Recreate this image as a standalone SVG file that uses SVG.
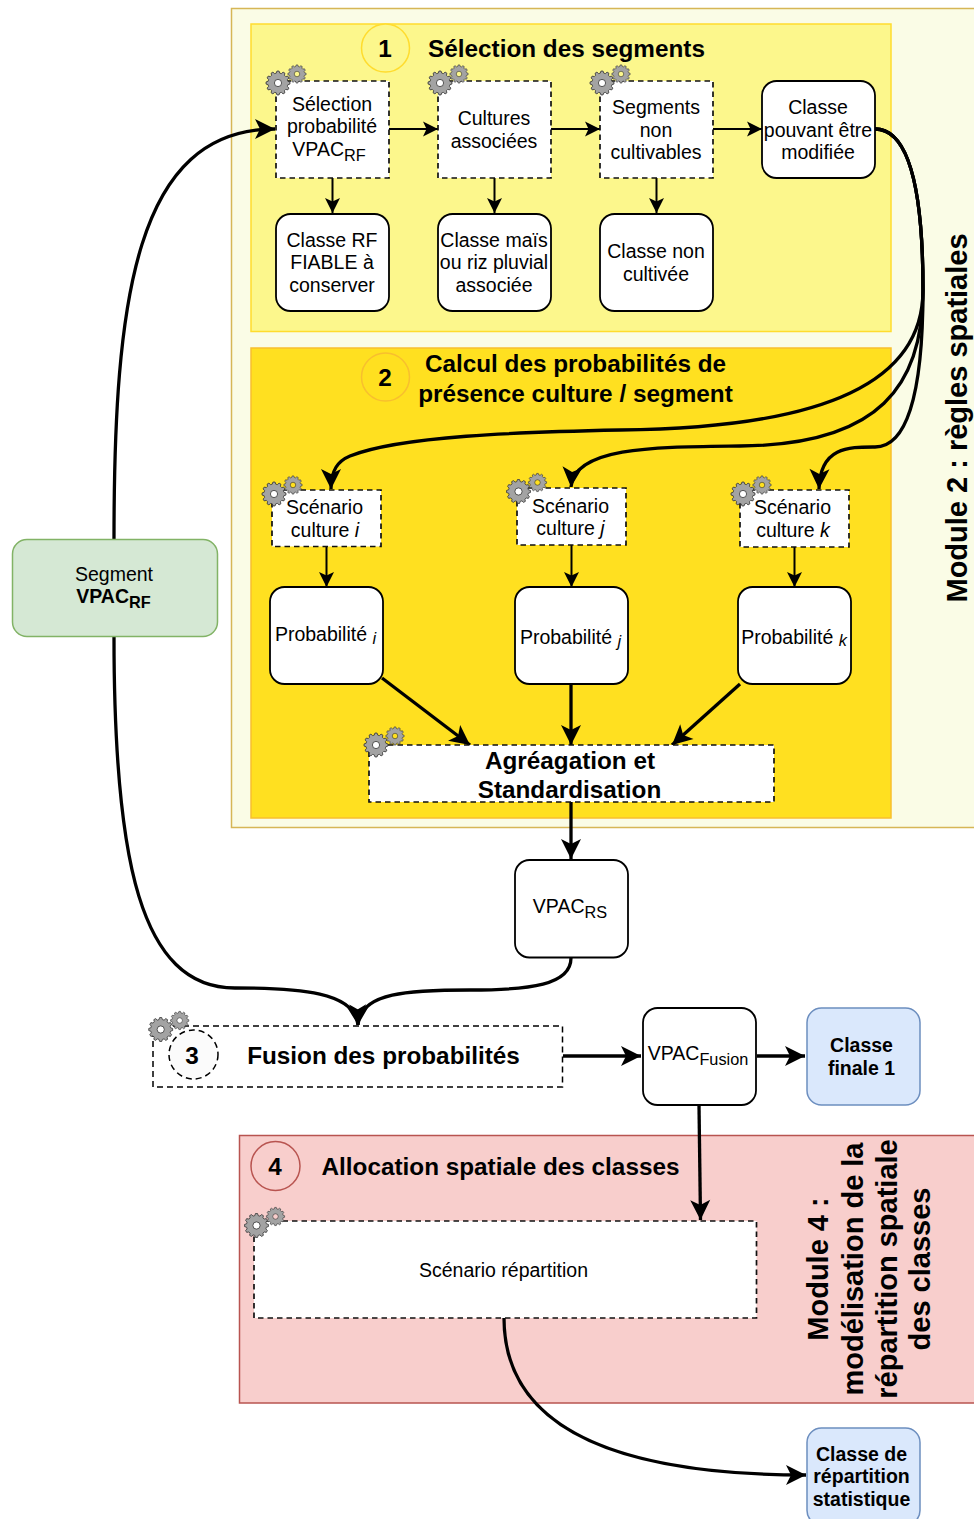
<svg xmlns="http://www.w3.org/2000/svg" xmlns:xlink="http://www.w3.org/1999/xlink" width="974" height="1519" viewBox="0 0 974 1519">
<style>
text{font-family:"Liberation Sans",Arial,sans-serif;fill:#000;text-anchor:middle}
.t{font-size:19.5px}
.b{font-size:24.3px;font-weight:bold}
.v{font-size:29px;font-weight:bold}
.n{font-size:24.3px;font-weight:bold}
.sub{font-size:16.3px}
.d{fill:#fff;stroke:#111;stroke-width:1.700;stroke-dasharray:5.500 4}
.r{fill:#fff;stroke:#000;stroke-width:1.800}
.gs{fill:#a3a3a3;stroke:#333;stroke-width:.8}
.c path,.c line{fill:none;stroke:#000}
.th{stroke-width:2}
.tk{stroke-width:3.300}
</style>
<defs>
<marker id="am" markerUnits="userSpaceOnUse" markerWidth="18" markerHeight="18" refX="15" refY="8" orient="auto" overflow="visible"><path d="M0,0.500L15,8L0,15.500L3.500,8Z" fill="#000"/></marker>
<marker id="al" markerUnits="userSpaceOnUse" markerWidth="22" markerHeight="22" refX="20" refY="10" orient="auto" overflow="visible"><path d="M0,0L20,10L0,20L5,10Z" fill="#000"/></marker>
<path id="gp" fill-rule="evenodd" d="M11.95,1.05L9.85,1.74L9.4,3.42L10.88,5.07L9.83,6.88L7.66,6.43L6.43,7.66L6.88,9.83L5.07,10.88L3.42,9.4L1.74,9.85L1.05,11.95L-1.05,11.95L-1.74,9.85L-3.42,9.4L-5.07,10.88L-6.88,9.83L-6.43,7.66L-7.66,6.43L-9.83,6.88L-10.88,5.07L-9.4,3.42L-9.85,1.74L-11.95,1.05L-11.95,-1.05L-9.85,-1.74L-9.4,-3.42L-10.88,-5.07L-9.83,-6.88L-7.66,-6.43L-6.43,-7.66L-6.88,-9.83L-5.07,-10.88L-3.42,-9.4L-1.74,-9.85L-1.05,-11.95L1.05,-11.95L1.74,-9.85L3.42,-9.4L5.07,-10.88L6.88,-9.83L6.43,-7.66L7.66,-6.43L9.83,-6.88L10.88,-5.07L9.4,-3.42L9.85,-1.74L11.95,-1.05ZM3.6,0A3.6,3.6 0 1 0 -3.6,0A3.6,3.6 0 1 0 3.6,0Z"/>
<g id="gears">
<circle cx="0" cy="0" r="4" fill="#fff"/>
<use xlink:href="#gp" href="#gp" class="gs"/>
<use xlink:href="#gp" href="#gp" class="gs" transform="translate(19,-9) scale(.76)"/>
</g>
</defs>

<g id="module2">
<rect x="231.500" y="8.500" width="760" height="819" fill="#fafce6" stroke="#d6b656" stroke-width="1.500"/>
<text class="v" transform="translate(967,418) rotate(-90)">Module 2 : règles spatiales</text>
</g>
<g id="section1">
<rect x="251" y="24" width="640" height="307.500" fill="#fcf78c" stroke="#ffdc2e" stroke-width="1.500"/>
<circle cx="385.500" cy="48" r="24" fill="#fcf78c" stroke="#ffdc2e" stroke-width="1.500"/>
<text class="n" x="385" y="57">1</text>
<text class="b" x="566.500" y="57">Sélection des segments</text>
</g>
<g id="section2">
<rect x="251" y="348" width="640" height="470" fill="#ffe020" stroke="#f8bf2e" stroke-width="1.500"/>
<circle cx="385.500" cy="377" r="24" fill="#ffe020" stroke="#f8bf2e" stroke-width="1.500"/>
<text class="n" x="385" y="386">2</text>
<text class="b" x="575.500" y="372">Calcul des probabilités de</text>
<text class="b" x="575.500" y="402">présence culture / segment</text>
</g>
<g id="module4">
<rect x="239.500" y="1135.500" width="750" height="267.500" fill="#f8cecc" stroke="#b85450" stroke-width="1.500"/>
<circle cx="275.500" cy="1166" r="24.500" fill="#f8cecc" stroke="#b85450" stroke-width="1.500"/>
<text class="n" x="275" y="1175">4</text>
<text class="b" x="500.500" y="1175">Allocation spatiale des classes</text>
<g transform="rotate(-90)">
<text class="v" x="-1269" y="828">Module 4 :</text>
<text class="v" x="-1269" y="863">modélisation de la</text>
<text class="v" x="-1269" y="897">répartition spatiale</text>
<text class="v" x="-1269" y="930">des classes</text>
</g>
</g>

<g id="connectors" class="c">
<path class="th" marker-end="url(#am)" d="M389,129H438"/>
<path class="th" marker-end="url(#am)" d="M551,129H600"/>
<path class="th" marker-end="url(#am)" d="M713,129H762"/>
<path class="th" marker-end="url(#am)" d="M332.500,178V213"/>
<path class="th" marker-end="url(#am)" d="M494.500,178V213"/>
<path class="th" marker-end="url(#am)" d="M656.500,178V213"/>
<path class="th" marker-end="url(#am)" d="M326.500,547V587"/>
<path class="th" marker-end="url(#am)" d="M571.500,545V587"/>
<path class="th" marker-end="url(#am)" d="M794.500,547V587"/>
<path class="tk" marker-end="url(#al)" d="M875,129C905,129 923,175 923,290C923,380 830,428 620,430C520,432 400,436 350,456C338,461 331,470 331,489"/>
<path class="tk" marker-end="url(#al)" d="M875,129C905,129 923,175 923,290C923,385 880,445 740,446C660,447 574,446 571,487"/>
<path class="tk" marker-end="url(#al)" d="M875,129C905,129 923,175 923,290C923,400 905,447 875,447C850,447 820,446 819,489"/>
<path class="tk" marker-end="url(#al)" d="M382,678L470,745"/>
<path class="tk" marker-end="url(#al)" d="M571,684V745"/>
<path class="tk" marker-end="url(#al)" d="M740,684L672,745"/>
<path class="tk" marker-end="url(#al)" d="M571,802V859"/>
<path class="tk" marker-end="url(#al)" d="M114,539C114,300 135,129 275,129"/>
<path class="tk" marker-end="url(#al)" d="M114,637C114,860 140,988 235,988C300,988 355,992 358,1025"/>
<path class="tk" marker-end="url(#al)" d="M571,958C571,985 530,990 470,990C410,990 360,992 358,1025"/>
<path class="tk" marker-end="url(#al)" d="M563,1056H641"/>
<path class="tk" marker-end="url(#al)" d="M757,1056H805"/>
<path class="tk" marker-end="url(#al)" d="M699,1105L700.500,1220"/>
<path class="tk" marker-end="url(#al)" d="M504,1318C504,1430 620,1475 806,1475"/>
</g>

<g id="n-selection">
<rect class="d" x="276" y="81" width="113" height="97"/>
<use xlink:href="#gears" href="#gears" x="278" y="83"/>
<text class="t" x="332" y="111">Sélection</text>
<text class="t" x="332" y="133">probabilité</text>
<text class="t" x="329" y="156">VPAC<tspan class="sub" dy="5">RF</tspan></text>
</g>
<g id="n-cultures">
<rect class="d" x="438" y="81" width="113" height="97"/>
<use xlink:href="#gears" href="#gears" x="440" y="83"/>
<text class="t" x="494" y="125">Cultures</text>
<text class="t" x="494" y="148">associées</text>
</g>
<g id="n-segments">
<rect class="d" x="600" y="81" width="113" height="97"/>
<use xlink:href="#gears" href="#gears" x="602" y="83"/>
<text class="t" x="656" y="114">Segments</text>
<text class="t" x="656" y="137">non</text>
<text class="t" x="656" y="159">cultivables</text>
</g>
<g id="n-classe-mod">
<rect class="r" x="762" y="81" width="113" height="97" rx="14.500"/>
<text class="t" x="818" y="114">Classe</text>
<text class="t" x="818" y="137">pouvant être</text>
<text class="t" x="818" y="159">modifiée</text>
</g>
<g id="n-classe-rf">
<rect class="r" x="276" y="214" width="113" height="97" rx="14.500"/>
<text class="t" x="332" y="247">Classe RF</text>
<text class="t" x="332" y="269">FIABLE à</text>
<text class="t" x="332" y="292">conserver</text>
</g>
<g id="n-classe-mais">
<rect class="r" x="438" y="214" width="113" height="97" rx="14.500"/>
<text class="t" x="494" y="247">Classe maïs</text>
<text class="t" x="494" y="269">ou riz pluvial</text>
<text class="t" x="494" y="292">associée</text>
</g>
<g id="n-classe-non">
<rect class="r" x="600" y="214" width="113" height="97" rx="14.500"/>
<text class="t" x="656" y="258">Classe non</text>
<text class="t" x="656" y="281">cultivée</text>
</g>
<g id="n-scen-i">
<rect class="d" x="272" y="490" width="109" height="56.500"/>
<use xlink:href="#gears" href="#gears" x="274" y="494"/>
<text class="t" x="324.500" y="514">Scénario</text>
<text class="t" x="325" y="537">culture <tspan font-style="italic">i</tspan></text>
</g>
<g id="n-scen-j">
<rect class="d" x="517" y="488" width="109" height="57"/>
<use xlink:href="#gears" href="#gears" x="518.500" y="491.500"/>
<text class="t" x="570.500" y="513">Scénario</text>
<text class="t" x="570.500" y="535">culture <tspan font-style="italic">j</tspan></text>
</g>
<g id="n-scen-k">
<rect class="d" x="740" y="490" width="109" height="57"/>
<use xlink:href="#gears" href="#gears" x="743" y="494"/>
<text class="t" x="792.500" y="514">Scénario</text>
<text class="t" x="793" y="537">culture <tspan font-style="italic">k</tspan></text>
</g>
<g id="n-prob-i">
<rect class="r" x="270" y="587" width="113" height="97" rx="14.500"/>
<text class="t" x="325.500" y="641">Probabilité <tspan class="sub" font-style="italic" dy="3">i</tspan></text>
</g>
<g id="n-prob-j">
<rect class="r" x="515" y="587" width="113" height="97" rx="14.500"/>
<text class="t" x="570.500" y="644">Probabilité <tspan class="sub" font-style="italic" dy="3">j</tspan></text>
</g>
<g id="n-prob-k">
<rect class="r" x="738" y="587" width="113" height="97" rx="14.500"/>
<text class="t" x="794" y="644">Probabilité <tspan class="sub" font-style="italic" dy="2">k</tspan></text>
</g>
<g id="n-agreg">
<rect class="d" x="369" y="745" width="405" height="57"/>
<use xlink:href="#gears" href="#gears" x="376" y="745"/>
<text class="b" x="570" y="769">Agréagation et</text>
<text class="b" x="569.500" y="798">Standardisation</text>
</g>
<g id="n-vpacrs">
<rect class="r" x="515" y="860" width="113" height="97.500" rx="14.500"/>
<text class="t" x="570" y="913">VPAC<tspan class="sub" dy="5">RS</tspan></text>
</g>
<g id="n-segment">
<rect x="12.500" y="539.500" width="205" height="97" rx="14.500" fill="#d5e8d4" stroke="#82b366" stroke-width="1.500"/>
<text class="t" x="114" y="581">Segment</text>
<text class="t" x="113.500" y="603" font-weight="bold">VPAC<tspan class="sub" dy="5">RF</tspan></text>
</g>
<g id="n-fusion">
<rect x="153" y="1026" width="409.500" height="61" fill="#fff" stroke="#000" stroke-width="1.500" stroke-dasharray="6 4"/>
<use xlink:href="#gears" href="#gears" x="160.700" y="1029.500"/>
<circle cx="193.500" cy="1054.500" r="24.500" fill="#fbfbfb" stroke="#000" stroke-width="1.500" stroke-dasharray="6 4"/>
<text class="n" x="192" y="1064">3</text>
<text class="b" x="383.500" y="1064">Fusion des probabilités</text>
</g>
<g id="n-vpacfusion">
<rect class="r" x="643" y="1008" width="113" height="97" rx="14.500"/>
<text class="t" x="698" y="1060">VPAC<tspan class="sub" dy="5">Fusion</tspan></text>
</g>
<g id="n-finale">
<rect x="807" y="1008" width="113" height="97" rx="14.500" fill="#dae8fc" stroke="#6c8ebf" stroke-width="1.500"/>
<text class="t" font-weight="bold" x="861.500" y="1052">Classe</text>
<text class="t" font-weight="bold" x="861.500" y="1075">finale 1</text>
</g>
<g id="n-scen-rep">
<rect class="d" x="254" y="1221" width="502.500" height="97"/>
<use xlink:href="#gears" href="#gears" x="256.500" y="1225.500"/>
<text class="t" x="503.500" y="1277">Scénario répartition</text>
</g>
<g id="n-repartition">
<rect x="807" y="1428" width="113" height="97" rx="14.500" fill="#dae8fc" stroke="#6c8ebf" stroke-width="1.500"/>
<text class="t" font-weight="bold" x="861.500" y="1461">Classe de</text>
<text class="t" font-weight="bold" x="861.500" y="1483">répartition</text>
<text class="t" font-weight="bold" x="861.500" y="1506">statistique</text>
</g>
</svg>
